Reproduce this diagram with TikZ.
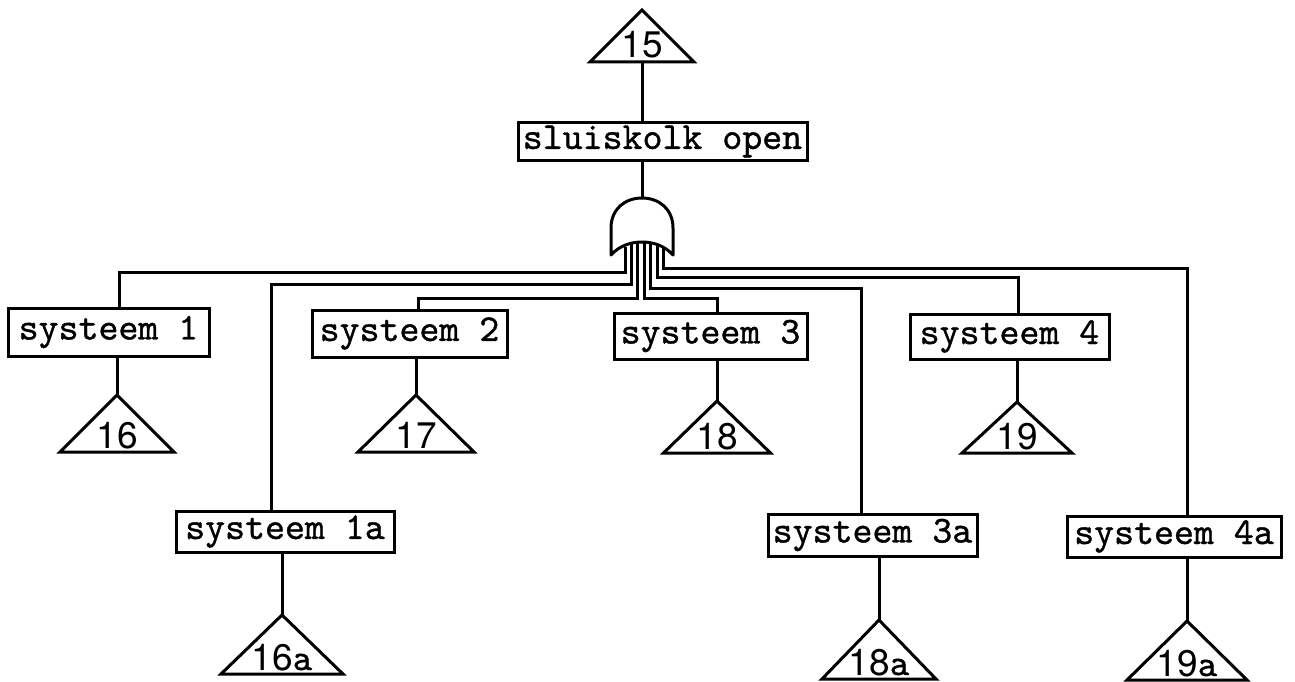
\documentclass[tikz,border=0pt]{standalone}
\usepackage{fontspec}
\newfontfamily\numfont{TeX Gyre Heros}
\newfontfamily\typewr[FakeBold=1]{lmmono10-regular.otf}
\usetikzlibrary{shapes.geometric}
\newcommand\boxfont{\fontsize{38}{40}\selectfont\typewr}
\newcommand\numbig{\fontsize{37}{40}\selectfont\numfont}
\newcommand\suf[1]{{\fontsize{37}{40}\selectfont\typewr #1}}
\tikzset{
  every path/.style={line width=3pt},
  sysbox/.style={draw, rectangle, font=\boxfont, inner sep=0pt, line width=3pt},
  tri/.style 2 args={draw, isosceles triangle, isosceles triangle stretches,
    shape border rotate=90, minimum width=#1, minimum height=#2,
    inner sep=0pt, outer sep=0pt, anchor=south, line width=3pt, line join=miter},
  num/.style={font=\numbig, inner sep=0pt, anchor=base},
  wire/.style={line width=3pt, line join=miter}
}
\begin{document}
\begin{tikzpicture}[x=1pt,y=-1pt]
\useasboundingbox (0,0) rectangle (1295,682);

% top event
\node[tri={104pt}{52pt}] (t15) at (642,62) {};
\node[num] (n15) at ([yshift=4pt]t15.south) {15};
\node[sysbox, minimum width=289pt, minimum height=37pt] (top) at (662.5,141.5) {sluiskolk open};

% AND gate
\coordinate (gout) at (642,198);
\draw[line join=round] (611,255) -- (611,228) .. controls (611,209) and (625,198) .. (gout)
  .. controls (659,198) and (673,209) .. (673,228) -- (673,255)
  .. controls (664,245) and (652,242) .. (642,242)
  .. controls (632,242) and (620,245) .. (611,255) -- cycle;
\coordinate (g1) at (625,246.5);
\coordinate (g2) at (631,244);
\coordinate (g3) at (637,242.5);
\coordinate (g4) at (644,242);
\coordinate (g5) at (650,243);
\coordinate (g6) at (657,244.5);
\coordinate (g7) at (663,246.5);

% first row of systems
\node[sysbox, minimum width=201pt, minimum height=48pt] (s1) at (108.5,332) {systeem 1};
\node[sysbox, minimum width=195pt, minimum height=47pt] (s2) at (409.5,333.5) {systeem 2};
\node[sysbox, minimum width=193pt, minimum height=46pt] (s3) at (710.5,336) {systeem 3};
\node[sysbox, minimum width=199pt, minimum height=45pt] (s4) at (1009.5,336.5) {systeem 4};

\node[tri={114pt}{57pt}] (t16) at (117,452) {};
\node[tri={116pt}{57pt}] (t17) at (416,452) {};
\node[tri={107pt}{52pt}] (t18) at (717,453) {};
\node[tri={110pt}{51pt}] (t19) at (1017,453) {};
\node[num] (n16) at ([yshift=4pt]t16.south) {16};
\node[num] (n17) at ([yshift=4pt]t17.south) {17};
\node[num] (n18) at ([yshift=4pt]t18.south) {18};
\node[num] (n19) at ([yshift=4pt]t19.south) {19};

% second row of systems
\node[sysbox, minimum width=218pt, minimum height=41pt] (s1a) at (285,531.5) {systeem 1a};
\node[sysbox, minimum width=209pt, minimum height=42pt] (s3a) at (872.5,535) {systeem 3a};
\node[sysbox, minimum width=214pt, minimum height=41pt] (s4a) at (1174,536.5) {systeem 4a};

\node[tri={122pt}{59pt}] (t16a) at (282,674) {};
\node[tri={114pt}{59pt}] (t18a) at (879,679) {};
\node[tri={120pt}{59pt}] (t19a) at (1187,680) {};
\node[num] (n16a) at ([yshift=4pt]t16a.south) {16\suf{a}};
\node[num] (n18a) at ([yshift=4pt]t18a.south) {18\suf{a}};
\node[num] (n19a) at ([yshift=4pt]t19a.south) {19\suf{a}};

% bends of the gate inputs
\coordinate (k1) at (119,272);
\coordinate (k2) at (271,284);
\coordinate (k3) at (418,298);
\coordinate (k4) at (717,298);
\coordinate (k5) at (861,288);
\coordinate (k6) at (1018,277);
\coordinate (k7) at (1187,268);

% connectors
\draw (t15.south) -- (t15.south |- top.north);
\draw (gout |- top.south) -- (gout);

\draw[wire] (g1) |- (k1) -- (k1 |- s1.north);
\draw[wire] (g2) |- (k2) -- (k2 |- s1a.north);
\draw[wire] (g3) |- (k3) -- (k3 |- s2.north);
\draw[wire] (g4) |- (k4) -- (k4 |- s3.north);
\draw[wire] (g5) |- (k5) -- (k5 |- s3a.north);
\draw[wire] (g6) |- (k6) -- (k6 |- s4.north);
\draw[wire] (g7) |- (k7) -- (k7 |- s4a.north);

\draw (s1.south -| t16.apex) -- (t16.apex);
\draw (s2.south -| t17.apex) -- (t17.apex);
\draw (s3.south -| t18.apex) -- (t18.apex);
\draw (s4.south -| t19.apex) -- (t19.apex);
\draw (s1a.south -| t16a.apex) -- (t16a.apex);
\draw (s3a.south -| t18a.apex) -- (t18a.apex);
\draw (s4a.south -| t19a.apex) -- (t19a.apex);
\end{tikzpicture}
\end{document}
